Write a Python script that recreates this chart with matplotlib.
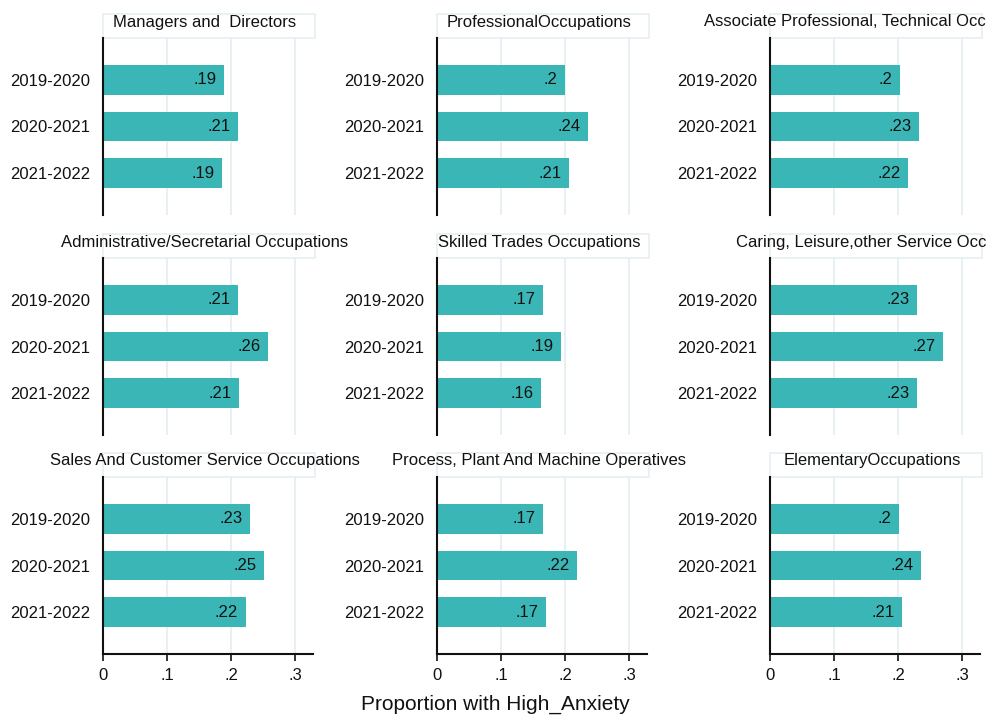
import matplotlib
matplotlib.use("Agg")
import matplotlib.pyplot as plt
from matplotlib.patches import Rectangle

plt.rcParams['font.family'] = ['Liberation Sans', 'DejaVu Sans']

# Panel titles, in reading order (3x3 grid)
occupations = [
    "Managers and  Directors",
    "ProfessionalOccupations",
    "Associate Professional, Technical Occ",
    "Administrative/Secretarial Occupations",
    "Skilled Trades Occupations",
    "Caring, Leisure,other Service Occ",
    "Sales And Customer Service Occupations",
    "Process, Plant And Machine Operatives",
    "ElementaryOccupations",
]
years = ["2019-2020", "2020-2021", "2021-2022"]

# Proportion with high anxiety, one list per occupation (2019-20, 2020-21, 2021-22)
managers = [0.189, 0.211, 0.186]
professional = [0.200, 0.236, 0.206]
associate = [0.203, 0.233, 0.216]
administrative = [0.211, 0.258, 0.213]
skilled = [0.166, 0.194, 0.162]
caring = [0.230, 0.270, 0.230]
sales = [0.230, 0.252, 0.223]
process = [0.166, 0.219, 0.171]
elementary = [0.201, 0.236, 0.206]
values = [managers, professional, associate,
          administrative, skilled, caring,
          sales, process, elementary]

xticks = [0, 0.1, 0.2, 0.3]
xticklabels = ["0", ".1", ".2", ".3"]

bar_color = "#3bb6b6"
grid_color = "#e4edf2"

W, H = 994, 715
fig = plt.figure(figsize=(W / 100, H / 100), dpi=100)
fig.patch.set_facecolor("white")
renderer = fig.canvas.get_renderer()

col_left = [103, 437, 770]
col_width = 210
row_top = [38, 258, 477]
row_height = 177
right_limit = 986  # titles are kept inside the graph's right edge


def fmt(v):
    s = f"{v:.2f}".rstrip("0").rstrip(".")
    return s[1:] if s.startswith("0") else s


for i, (name, vals) in enumerate(zip(occupations, values)):
    r, c = divmod(i, 3)
    left = col_left[c] / W
    bottom = 1 - (row_top[r] + row_height) / H
    ax = fig.add_axes([left, bottom, col_width / W, row_height / H])

    pos = list(range(1, len(years) + 1))
    ax.barh(pos, vals, height=0.63, color=bar_color, zorder=2)
    for p, v in zip(pos, vals):
        ax.text(v - 0.012, p, fmt(v), ha="right", va="center",
                fontsize=12, color="#111111", zorder=3)

    ax.set_xlim(0, 0.328)
    ax.set_ylim(3.9, 0.1)
    ax.set_yticks(pos)
    ax.set_yticklabels(years, fontsize=12)
    ax.tick_params(axis="y", length=0, pad=9, colors="#111111")
    ax.set_xticks(xticks)
    for x in xticks[1:]:
        ax.axvline(x, color=grid_color, lw=1.2, zorder=1)

    for s in ["top", "right"]:
        ax.spines[s].set_visible(False)
    ax.spines["left"].set_linewidth(1.5)
    ax.spines["left"].set_color("#111111")

    if r == 2:
        ax.set_xticklabels(xticklabels, fontsize=12)
        ax.tick_params(axis="x", length=5, width=1.2, pad=5, colors="#111111")
        ax.spines["bottom"].set_linewidth(1.5)
        ax.spines["bottom"].set_color("#111111")
    else:
        ax.spines["bottom"].set_visible(False)
        ax.tick_params(axis="x", length=0, labelbottom=False)

    # subtitle box above the plot region
    box_h = 24 / row_height
    ax.add_patch(Rectangle((0, 1.0), 1.01, box_h, transform=ax.transAxes,
                           facecolor="white", edgecolor="#e6eff3", lw=1.2,
                           clip_on=False, zorder=0))
    cx = col_left[c] + 102
    cy = row_top[r] - 16
    t = fig.text(cx / W, 1 - cy / H, name, ha="center", va="center",
                 fontsize=12, color="#111111")
    bb = t.get_window_extent(renderer)
    if bb.x1 > right_limit:
        t.set_x((cx - (bb.x1 - right_limit)) / W)

fig.text(495 / W, 1 - 704 / H, "Proportion with High_Anxiety",
         ha="center", va="center", fontsize=15, color="#111111")

fig.savefig("out.png", dpi=100)
